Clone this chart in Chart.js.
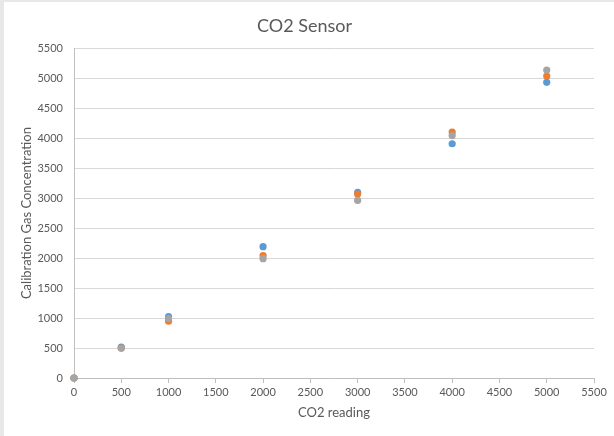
<!DOCTYPE html>
<html>
<head>
<meta charset="utf-8">
<script src="https://cdn.jsdelivr.net/npm/chart.js@4"></script>
<style>
  html, body { margin: 0; padding: 0; background: #e8e8e8; width: 614px; height: 436px; overflow: hidden; }
  #wrap { position: absolute; left: 4px; top: 2px; width: 610px; height: 434px; background: #ffffff; }
</style>
</head>
<body>
<div id="wrap"><canvas id="c"></canvas></div>
<script>
const chartTitle = 'CO2 Sensor';
const xAxisTitle = 'CO2 reading';
const yAxisTitle = 'Calibration Gas Concentration';
const co2Reading = [0, 500, 1000, 2000, 3000, 4000, 5000];
const series1 = [0, 515, 1025, 2190, 3095, 3905, 4930];
const series2 = [0, 500, 948, 2042, 3068, 4100, 5035];
const series3 = [0, 495, 990, 1990, 2960, 4042, 5135];
const seriesNames = ['Series1', 'Series2', 'Series3'];
const seriesColors = ['#5B9BD5', '#ED7D31', '#A5A5A5'];
const axisMin = 0, axisMax = 5500, axisStep = 500;

const allSeries = [series1, series2, series3];
const datasets = allSeries.map((vals, i) => ({
  label: seriesNames[i],
  data: co2Reading.map((x, j) => ({ x: x, y: vals[j] })),
  backgroundColor: seriesColors[i],
  borderColor: seriesColors[i],
  borderWidth: 0,
  pointRadius: 3.6,
  pointHoverRadius: 3.6,
  showLine: false,
  clip: false,
  order: allSeries.length - i
}));

const font = 'Lato, "Open Sans", sans-serif';
const txt = '#595959';
const plainTick = v => String(v);

new Chart(document.getElementById('c'), {
  type: 'scatter',
  data: { datasets },
  options: {
    responsive: true,
    maintainAspectRatio: false,
    animation: false,
    devicePixelRatio: 1,
    layout: { padding: { left: 11, right: 20, top: 0, bottom: 0 } },
    plugins: {
      legend: { display: false },
      tooltip: { enabled: false },
      title: {
        display: true,
        text: chartTitle,
        color: txt,
        font: { family: font, size: 18, weight: 'normal' },
        padding: { top: 13, bottom: 11.5 }
      }
    },
    scales: {
      x: {
        type: 'linear',
        min: axisMin, max: axisMax,
        afterFit: s => { s.height = 58; },
        ticks: { stepSize: axisStep, color: txt, font: { family: font, size: 11 }, padding: 3, maxRotation: 0, callback: plainTick },
        grid: { drawOnChartArea: false, color: '#BFBFBF', tickColor: '#BFBFBF', tickLength: 5 },
        border: { display: true, color: '#BFBFBF' },
        title: { display: true, text: xAxisTitle, color: txt, font: { family: font, size: 13 }, padding: { top: 4, bottom: 15 } }
      },
      y: {
        type: 'linear',
        min: axisMin, max: axisMax,
        afterFit: s => { s.width = 59; },
        ticks: { stepSize: axisStep, color: txt, font: { family: font, size: 11 }, padding: 3, callback: plainTick },
        grid: { color: '#D9D9D9', tickColor: 'rgba(0,0,0,0)', tickLength: 8 },
        border: { display: true, color: '#BFBFBF' },
        title: { display: true, text: yAxisTitle, color: txt, font: { family: font, size: 13 }, padding: { top: 4, bottom: 4 } }
      }
    }
  }
});
</script>
</body>
</html>
